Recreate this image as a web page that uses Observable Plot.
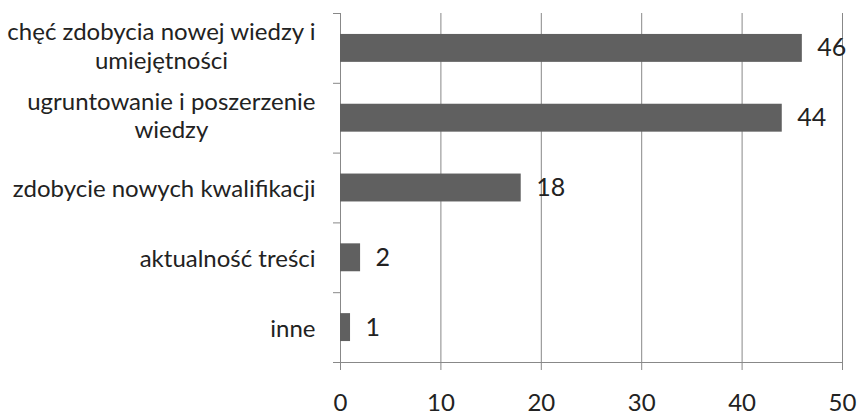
<!DOCTYPE html>
<html><head><meta charset="utf-8">
<script src="https://cdn.jsdelivr.net/npm/d3@7"></script>
<script src="https://cdn.jsdelivr.net/npm/@observablehq/plot@0.6"></script>
<style>
  html,body{margin:0;padding:0;background:#fff;}
  #chart svg{display:block;}
</style>
</head><body><div id="chart"></div>
<script>
// ---- data ----
const categories = [
  "chęć zdobycia nowej wiedzy i\numiejętności",
  "ugruntowanie i poszerzenie\nwiedzy",
  "zdobycie nowych kwalifikacji",
  "aktualność treści",
  "inne"
];
const values = [46, 44, 18, 2, 1];
const xTicks = [0, 10, 20, 30, 40, 50];

const rows = categories.map((c, i) => ({category: c, value: values[i], idx: i}));
const n = categories.length;
const grey = "#888888";
const ink = "#222222";
const font = "Lato, 'Open Sans', sans-serif";

const chart = Plot.plot({
  width: 858,
  height: 414,
  marginLeft: 340,
  marginRight: 16,
  marginTop: 13,
  marginBottom: 52,
  style: {fontFamily: font, background: "#fff", color: ink},
  x: {domain: [0, 50]},
  y: {domain: [-0.5, n - 0.5], reverse: true},
  marks: [
    Plot.gridX({ticks: xTicks, stroke: grey, strokeOpacity: 1, strokeWidth: 1}),
    Plot.ruleX([0], {stroke: grey}),
    Plot.ruleY([n - 0.5], {stroke: grey}),
    Plot.rectX(rows, {
      x1: 0, x2: "value",
      y1: d => d.idx - 0.2, y2: d => d.idx + 0.2,
      fill: "#606060"
    }),
    Plot.text(rows, {
      x: "value", y: "idx", text: d => String(d.value),
      textAnchor: "start", dx: 15, fontSize: 25, fill: ink
    }),
    Plot.axisX({
      ticks: xTicks, tickSize: 8, tickPadding: 23, fontSize: 24,
      stroke: grey, fill: ink, label: null
    }),
    Plot.axisY({
      ticks: d3.range(n + 1).map(i => i - 0.5),
      tickFormat: () => "", tickSize: 7, stroke: grey, label: null
    }),
    Plot.axisY({
      ticks: d3.range(n), tickFormat: i => categories[i],
      tickSize: 0, tickPadding: 25, fontSize: 24, lineHeight: 1.17,
      fill: ink, label: null, textOverflow: null
    })
  ]
});

document.getElementById("chart").appendChild(chart);

// centre the lines of multi-line category labels (as in the original)
chart.querySelectorAll("text").forEach(t => {
  const spans = t.querySelectorAll("tspan");
  if (spans.length < 2) return;
  const widths = Array.from(spans, s => s.getComputedTextLength());
  const W = Math.max(...widths);
  spans.forEach((s, k) => s.setAttribute("x", -(W - widths[k]) / 2));
  const dy0 = spans[0].getAttribute("dy") || "0em";
  const v = parseFloat(dy0);
  if (dy0.endsWith("em")) spans[0].setAttribute("dy", (v - 0.12) + "em");
  else spans[0].setAttribute("dy", (v - 3));
});
</script>
</body></html>
